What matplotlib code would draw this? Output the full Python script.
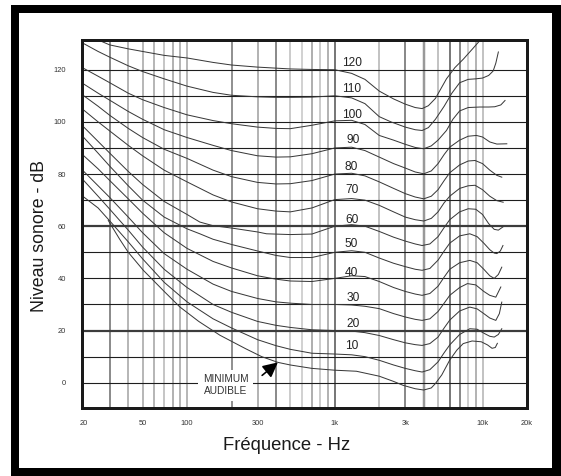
import matplotlib
matplotlib.use("Agg")
import matplotlib.pyplot as plt
from matplotlib.patches import Rectangle
from matplotlib.ticker import FixedLocator, NullLocator

plt.rcParams['font.family'] = ['Liberation Sans', 'DejaVu Sans']

# Equal-loudness contours: frequency (Hz) and sound level (dB) for each phon level
f_120 = [26, 30, 40, 50, 70, 100, 150, 200, 300, 400, 500, 700, 1000, 1300, 1600, 2000, 2500, 3000, 3500, 3900,
         4300, 4800, 5700, 6500, 7400, 8500, 9600]
l_120 = [131, 129.5, 128, 127, 125.5, 124.5, 122.8, 121.8, 121, 120.6, 120.3, 120.1, 120, 118.6, 116.3, 111.8, 108.8,
         106.8, 105.5, 105.1, 106.2, 109, 116.5, 120.8, 124, 127.8, 131.2]

f_110 = [20, 25, 30, 40, 50, 70, 100, 150, 200, 300, 400, 500, 700, 1000, 1300, 1600, 2000, 2400, 3000, 3500, 3900,
         4300, 4800, 5500, 6200, 7000, 8000, 9000, 10000, 11000, 11800, 12300, 12800]
l_110 = [130, 127, 124.8, 121.5, 119.3, 116.5, 113.7, 111.3, 110.2, 109.6, 109.4, 109.4, 109.5, 110, 109.2, 107, 102,
         100, 98, 97, 96.7, 97.8, 101, 106, 111, 115, 116.3, 116.5, 116.8, 117.8, 119.5, 122.5, 126.8]

f_100 = [20, 25, 30, 40, 50, 70, 100, 150, 200, 300, 400, 500, 700, 1000, 1300, 1600, 2000, 2500, 3000, 3500, 4000,
         4500, 5000, 5700, 6300, 7000, 8000, 9600, 11000, 12100, 13300, 14200]
l_100 = [120.5, 117.5, 115, 111, 108.5, 105.5, 102.7, 100.5, 99.3, 98, 97.5, 97.4, 98.7, 100.4, 100.6, 99, 94.8, 93,
         91.4, 90.2, 89.7, 90.8, 93, 96.7, 101, 104.2, 105.5, 105.7, 105.7, 105.8, 106.5, 108.2]

f_90 = [20, 25, 30, 40, 50, 70, 100, 150, 200, 300, 400, 500, 700, 1000, 1300, 1600, 2000, 2500, 3000, 3500, 4000,
        4500, 5000, 5500, 6000, 7000, 8000, 9100, 10000, 11200, 12500, 14600]
l_90 = [114.5, 111, 108.3, 104, 101, 97, 94, 91, 89, 87, 86.5, 86.6, 87.8, 90, 90.3, 89, 86.5, 84, 82.3, 80.8, 80.1,
        81.2, 84, 87.5, 90.3, 93, 94.5, 94.8, 94.2, 92.3, 91.5, 91.6]

f_80 = [20, 25, 30, 40, 50, 70, 100, 150, 200, 300, 400, 500, 700, 1000, 1300, 1600, 2000, 2500, 3000, 3500, 4000,
        4500, 5000, 5500, 6000, 7000, 8000, 8900, 10000, 11200, 12500, 13500]
l_80 = [110, 106, 102.5, 97.5, 94, 89.5, 86, 81.5, 79, 76.8, 76.2, 76.3, 77.5, 80, 80.3, 79.3, 77, 74.5, 72.5, 71.2,
        70.5, 71.5, 74, 77.5, 80.5, 83.5, 85, 85.2, 84, 81.5, 79.5, 78.8]

f_70 = [20, 25, 30, 40, 50, 70, 100, 150, 200, 300, 400, 500, 700, 1000, 1300, 1600, 2000, 2500, 3000, 3500, 4000,
        4500, 5000, 5500, 6000, 7000, 8000, 8900, 10000, 11200, 12500, 13800]
l_70 = [104.5, 100, 96.5, 91, 87, 81.5, 77, 72, 69.3, 66.7, 65.8, 65.5, 67, 70.2, 70.6, 70, 68, 65.5, 63.5, 62.5, 62,
        63, 65.5, 69, 71.5, 74.5, 75.5, 75.7, 74, 71.5, 69.8, 69.2]

f_60 = [20, 25, 30, 40, 50, 70, 100, 122, 150, 200, 300, 345, 500, 700, 1000, 1300, 1600, 2000, 2500, 3000, 3500,
        3900, 4400, 5000, 5500, 6000, 7000, 8000, 9000, 10000, 11000, 12000, 12800, 13800]
l_60 = [98, 92.5, 88, 81, 76, 69.5, 64.5, 61.6, 60.2, 59.3, 57.8, 57.1, 56.8, 57, 60, 60.6, 60, 58, 55.8, 54.3, 53.2,
        52.6, 53.2, 56, 59.5, 62.5, 65.5, 66.7, 66.5, 64.5, 61, 58.8, 58.5, 59.8]

f_50 = [20, 25, 30, 40, 50, 70, 100, 122, 150, 200, 300, 400, 500, 700, 1000, 1300, 1600, 2000, 2500, 3000, 3500,
        3900, 4400, 5000, 5500, 6000, 7000, 8200, 9200, 10200, 11200, 12000, 12500, 13200, 13750]
l_50 = [94, 88, 83, 75.5, 70, 63.5, 59, 57.1, 55, 53, 50.5, 48.8, 48, 48, 50, 50.6, 50, 47.8, 45.8, 44.5, 43.5, 43.1,
        43.8, 47, 50.5, 53.5, 56.3, 57.1, 56, 53.5, 51, 49.7, 49.5, 50.5, 52.6]

f_40 = [20, 25, 30, 40, 50, 70, 100, 150, 200, 300, 400, 500, 700, 1000, 1300, 1600, 2000, 2500, 3000, 3500, 3900,
        4400, 5000, 5500, 6000, 7000, 8200, 9200, 10200, 11200, 12000, 12800, 13500]
l_40 = [87, 82, 77.5, 70.5, 65, 57.5, 51.5, 46.5, 44, 41, 39.7, 39, 38.8, 40, 41, 40.7, 38.8, 36.5, 35, 34, 33.5,
        34.2, 37, 40.5, 43.5, 46, 46.9, 46, 43.5, 41, 40, 41.5, 44.3]

f_30 = [20, 25, 30, 40, 50, 70, 100, 150, 200, 300, 400, 500, 700, 1000, 1300, 1600, 2000, 2500, 3000, 3500, 3900,
        4400, 5000, 5500, 6000, 7000, 7900, 9000, 10200, 11200, 12300, 13300]
l_30 = [81, 75.5, 71, 63.5, 57.5, 49.5, 43.5, 37.8, 35, 32.3, 31, 30.5, 30, 30, 29.8, 29.3, 28.4, 26.5, 25.2, 24.3,
        23.9, 24.5, 27.3, 30.5, 33.5, 36.5, 38, 37.5, 35, 33.5, 32.8, 36.7]

f_20 = [20, 25, 30, 40, 50, 70, 100, 150, 200, 300, 400, 500, 700, 1000, 1300, 1600, 2000, 2500, 3000, 3500, 3900,
        4400, 5000, 5500, 6000, 7000, 8200, 9200, 10200, 11200, 12300, 13000, 13500]
l_20 = [77.5, 71.5, 66.5, 58.5, 52, 43.5, 36.5, 30, 27, 23.5, 22, 21.2, 20.3, 20, 19.8, 19.2, 18.1, 16.5, 15.3, 14.6,
        14.3, 15, 17.5, 21, 24, 27.5, 29, 28.3, 26.5, 24.8, 23.9, 26.5, 30.9]

f_10 = [20, 25, 30, 40, 50, 70, 100, 150, 200, 300, 400, 500, 700, 1000, 1300, 1600, 2000, 2500, 3000, 3500, 3900,
        4400, 5000, 5500, 6000, 7000, 8200, 9200, 10200, 11200, 12000, 12800, 13500]
l_10 = [71.2, 67, 62, 54, 47.5, 38.5, 31, 24.5, 21, 16.5, 14.2, 12.8, 11.3, 11, 10.7, 10, 8.6, 6.8, 5.5, 4.6, 4.1,
        5, 8, 11.5, 14.5, 18.5, 20.7, 20.5, 19, 17.8, 17.5, 18.5, 20.7]

f_min = [29.3, 35, 40, 50.6, 70, 89.6, 120, 167, 250, 320, 412, 500, 700, 1000, 1400, 2000, 2500, 2900, 3500, 4000,
         4500, 4800, 5300, 6000, 6700, 7400, 8500, 9800, 10800, 11600, 12200, 12600]
l_min = [62.2, 55, 50, 43.1, 35, 29, 23.5, 18.2, 13, 10, 7.8, 6.8, 5.5, 4.8, 4.4, 2.5, 0.5, -1, -2.3, -2.8, -2, -0.3,
         3, 8.7, 12.5, 15, 16, 15.7, 14.5, 13.2, 13.5, 15.1]

curves = [
    (f_120, l_120), (f_110, l_110), (f_100, l_100), (f_90, l_90),
    (f_80, l_80), (f_70, l_70), (f_60, l_60), (f_50, l_50),
    (f_40, l_40), (f_30, l_30), (f_20, l_20), (f_10, l_10),
    (f_min, l_min),
]

# Phon values written next to each contour just above 1 kHz
phon_labels = ['120', '110', '100', '90', '80', '70', '60', '50', '40', '30', '20', '10']
phon_label_f = [1300, 1300, 1300, 1330, 1300, 1300, 1300, 1300, 1300, 1330, 1330, 1300]
phon_label_db = [122.7, 112.7, 102.5, 93.2, 82.7, 73.7, 62.5, 53.0, 42.0, 32.6, 22.4, 13.9]

x_ticks = [20, 50, 100, 300, 1000, 3000, 10000, 20000]
x_ticklabels = ['20', '50', '100', '300', '1k', '3k', '10k', '20k']
y_ticks = [0, 20, 40, 60, 80, 100, 120]

# Frequency grid: line frequency, grey level, width (px)
v_grid_f = [30, 40, 50, 60, 70, 80, 90, 100,
            200, 300, 400, 500, 600, 700, 800, 900, 1000,
            2000, 3000, 4000, 5000, 6000, 7000, 8000, 9000, 10000]
v_grid_c = ['#8c8c8c', '#a0a0a0', '#b8b8b8', '#a0a0a0', '#b4b4b4', '#9a9a9a', '#a0a0a0', '#b8b8b8',
            '#6e6e6e', '#b4b4b4', '#8c8c8c', '#bcbcbc', '#c4c4c4', '#969696', '#bcbcbc', '#9a9a9a', '#787878',
            '#b0b0b0', '#8a8a8a', '#999999', '#b0b0b0', '#7a7a7a', '#8a8a8a', '#c0c0c0', '#9c9c9c', '#b0b0b0']
v_grid_w = [2, 1.5, 2, 1.5, 1.5, 1.5, 1.5, 2,
            1.5, 2, 2, 1.5, 1.5, 1.5, 1.5, 1.5, 2,
            1.5, 2, 2.5, 1.5, 2, 2, 1.5, 1.5, 1.5]

h_grid_db = [0, 10, 20, 30, 40, 50, 60, 70, 80, 90, 100, 110, 120]

W, H, DPI = 561, 476, 100
px = 72.0 / DPI

fig = plt.figure(figsize=(W / DPI, H / DPI), dpi=DPI)
fig.patch.set_facecolor('white')

# heavy black frame around the figure
for (x0, y0, w, h) in [(11, 5, 550, 8), (11, 468, 550, 8), (11, 5, 8, 471), (552, 5, 9, 471)]:
    fig.add_artist(Rectangle((x0 / W, 1 - (y0 + h) / H), w / W, h / H,
                             transform=fig.transFigure, facecolor='black',
                             edgecolor='none', zorder=10))

left, right, top, bottom = 81.5, 527.0, 40.5, 407.5
ax = fig.add_axes([left / W, 1 - bottom / H, (right - left) / W, (bottom - top) / H])
ax.set_xscale('log')
ax.set_xlim(19.3, 20000)
ax.set_ylim(-9.5, 131.2)

for f, c, w in zip(v_grid_f, v_grid_c, v_grid_w):
    ax.axvline(f, color=c, lw=w * px, zorder=1)
for d in h_grid_db:
    if d in (20, 60):
        ax.axhline(d, color='#3c3c3c', lw=2.2 * px, zorder=2)
    else:
        ax.axhline(d, color='#1e1e1e', lw=1.1 * px, zorder=2)

for f, l in curves:
    ax.plot(f, l, color='#383838', lw=1.0 * px, zorder=3, solid_joinstyle='round')

for t, f, d in zip(phon_labels, phon_label_f, phon_label_db):
    ax.text(f, d, t, fontsize=8.6, color='#222222', ha='center', va='center', zorder=4)

ax.text(183, -1.0, 'MINIMUM\nAUDIBLE', fontsize=7.3, color='#333333', ha='center', va='center',
        linespacing=1.25, zorder=5,
        bbox=dict(boxstyle='square,pad=0.45', facecolor='white', edgecolor='none'))
ax.annotate('', xy=(412, 7.8), xytext=(322, 2.8),
            arrowprops=dict(arrowstyle='-|>,head_length=0.9,head_width=0.45', color='black',
                            lw=1.6 * px, shrinkA=0, shrinkB=0), zorder=6)

ax.xaxis.set_major_locator(FixedLocator(x_ticks))
ax.xaxis.set_minor_locator(NullLocator())
ax.set_xticklabels(x_ticklabels)
ax.set_yticks(y_ticks)
ax.tick_params(axis='both', length=0, labelsize=5.4, colors='#333333')
ax.tick_params(axis='x', pad=9)
ax.tick_params(axis='y', pad=11)

for s in ax.spines.values():
    s.set_color('#1a1a1a')
    s.set_linewidth(3.0 * px)
    s.set_zorder(7)

ax.set_xlabel('Fréquence - Hz', fontsize=13.3, color='#1a1a1a')
ax.set_ylabel('Niveau sonore - dB', fontsize=12.8, color='#1a1a1a')
ax.xaxis.set_label_coords(0.461, -0.080)
ax.yaxis.set_label_coords(-0.075, 0.466)

fig.savefig('out.png', dpi=DPI, facecolor='white')
